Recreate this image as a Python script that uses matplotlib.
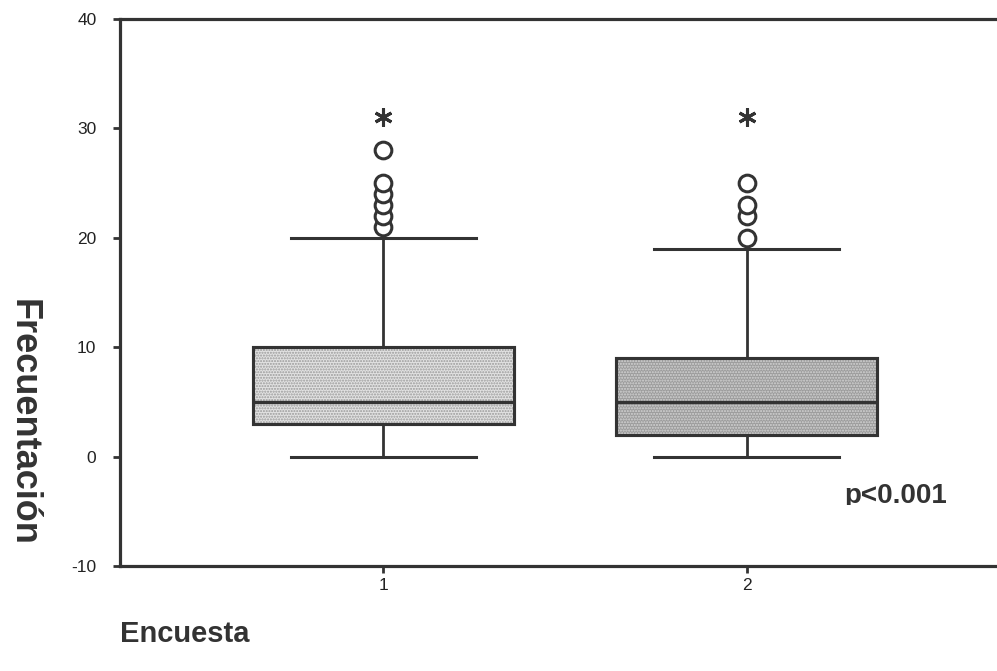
import matplotlib
matplotlib.use("Agg")
import matplotlib.pyplot as plt
from matplotlib.patches import PathPatch
from matplotlib.transforms import Bbox, TransformedBbox

plt.rcParams['font.family'] = ['Liberation Sans', 'DejaVu Sans']

# Data
groups = [1, 2]
tick_labels = ["1", "2"]
q1 = [3, 2]
medians = [5, 5]
q3 = [10, 9]
whisker_low = [0, 0]
whisker_high = [20, 19]
outliers_circle = [[21, 22, 23, 24, 25, 28], [20, 22, 23, 25]]
outliers_extreme = [[31], [31]]
face_colors = ['#e2e2e2', '#9c9c9c']
hatch_colors = ['#9a9a9a', '#d4d4d4']
yticks = [-10, 0, 10, 20, 30, 40]
ylabel = "Frecuentación"
xlabel = "Encuesta"
annotation = "p<0.001"

dark = '#333333'

fig = plt.figure(figsize=(9.97, 6.71), dpi=100)
ax = fig.add_axes([0.1204, 0.1565, 0.8927, 0.8152])

stats = []
for i in range(len(groups)):
    stats.append(dict(med=medians[i], q1=q1[i], q3=q3[i],
                      whislo=whisker_low[i], whishi=whisker_high[i],
                      fliers=[], label=tick_labels[i]))

bp = ax.bxp(stats, positions=groups, widths=0.72, patch_artist=True,
            showfliers=False,
            boxprops=dict(edgecolor=dark, linewidth=2.2),
            medianprops=dict(color=dark, linewidth=2.4),
            whiskerprops=dict(color=dark, linewidth=2.0),
            capprops=dict(color=dark, linewidth=2.2),
            capwidths=0.51)

for i, box in enumerate(bp['boxes']):
    box.set_facecolor(face_colors[i])
    box.set_zorder(2)
    overlay = PathPatch(box.get_path(), transform=box.get_transform(),
                        facecolor='none', edgecolor=hatch_colors[i],
                        linewidth=0, hatch='......', zorder=2.1)
    ax.add_patch(overlay)
    outline = PathPatch(box.get_path(), transform=box.get_transform(),
                        facecolor='none', edgecolor=dark,
                        linewidth=2.2, zorder=2.2)
    ax.add_patch(outline)
for m in bp['medians']:
    m.set_zorder(2.3)

for i, g in enumerate(groups):
    ax.plot([g] * len(outliers_circle[i]), outliers_circle[i], linestyle='none',
            marker='o', markersize=12, markerfacecolor='white',
            markeredgecolor=dark, markeredgewidth=2.2, zorder=3)
    ax.plot([g] * len(outliers_extreme[i]), outliers_extreme[i], linestyle='none',
            marker=(6, 2, 0), markersize=13, markeredgecolor=dark,
            markeredgewidth=2.2, zorder=3)

ax.set_xlim(0.2745, 2.7255)
ax.set_ylim(-10, 40)
ax.set_yticks(yticks)
ax.set_yticklabels([str(t) for t in yticks])
ax.set_xticks(groups)
ax.set_xticklabels(tick_labels)

for s in ax.spines.values():
    s.set_linewidth(2.3)
    s.set_color(dark)

ax.tick_params(axis='both', direction='out', length=5, width=2, color=dark,
               labelsize=12.5, labelcolor='#222222')
ax.tick_params(axis='y', pad=12)
ax.tick_params(axis='x', pad=4)

ptxt = ax.text(2.41, -3.6, annotation, fontsize=20, fontweight='bold',
               color='#333333', ha='center', va='center')
# the reference crops the descender of the annotation
ptxt.set_clip_box(TransformedBbox(Bbox([[0.2745, -4.45], [2.7255, 40]]), ax.transData))
ptxt.set_clip_on(True)

fig.text(0.023, 0.37, ylabel, rotation=270, fontsize=26, fontweight='bold',
         color='#333333', ha='center', va='center')
fig.text(0.185, 0.0555, xlabel, fontsize=21, fontweight='bold',
         color='#333333', ha='center', va='center')

fig.savefig("out.png", dpi=100)
